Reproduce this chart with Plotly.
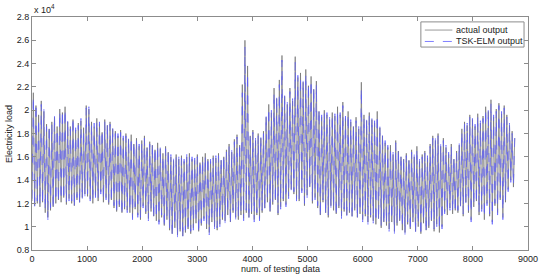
import plotly.graph_objects as go

# load values in units of 100 (x 10^4 axis), one peak and one trough per 48 samples
peaks = [215, 204, 196, 208, 199, 188, 184, 190, 194, 186, 201, 198, 203,
         190, 186, 192, 183, 189, 191, 185, 204, 201,
         190, 186, 193, 188, 181, 192, 187, 190, 184,
         182, 178, 183, 176, 180, 175,
         179, 171, 176, 169, 174, 178, 168, 173, 170, 166, 172,
         167, 163, 169, 164,
         160, 157, 162, 158, 161, 156, 160, 163, 158,
         157, 162, 155, 160, 163, 158, 156, 161, 159, 163, 157, 160,
         166, 171, 164, 175, 179, 170,
         222, 260, 238,
         178, 183, 174, 180, 176, 182,
         194, 205, 198, 219, 210,
         226, 247, 212, 205, 219, 208, 246, 228,
         232, 224, 235, 221, 229, 218, 225,
         199, 194, 200, 196, 192, 198, 195,
         203, 196, 207, 193, 199,
         190, 186, 194, 184, 224,
         196, 191, 198, 192, 189,
         199, 185, 178, 172, 168,
         170, 162, 174, 165, 160, 158,
         163, 157, 166, 160, 169, 156, 162, 165, 159,
         171, 178, 174, 180, 169, 176,
         168, 162, 171, 158, 165, 170,
         184, 190, 187, 196, 192, 186, 197, 189,
         195, 203, 199, 209, 194, 201, 206, 197, 204,
         196, 187, 182, 176]

troughs = [122, 118, 120, 117, 121, 112, 108, 114, 117, 120, 123, 121, 125,
           119, 124, 120, 118, 123, 121, 125, 128, 126,
           124, 120, 127, 122, 130, 121, 125, 119, 123,
           116, 113, 117, 112, 115, 114,
           112, 108, 115, 110, 106, 118, 111, 107, 113, 109, 105,
           104, 108, 101, 106,
           97, 94, 99, 93, 96, 92, 95, 98, 94,
           99, 103, 96, 101, 107, 98, 95, 104, 100, 97, 102, 106,
           105, 110, 104, 112, 108, 106,
           110, 107, 112,
           108, 111, 106, 110, 107, 112,
           116, 121, 113, 119, 123,
           110, 117, 122, 119, 126, 132, 128, 124,
           122, 131, 118, 127, 134, 120, 125,
           116, 110, 121, 112, 108, 118, 114,
           111, 116, 109, 113, 110,
           112, 109, 114, 108, 111,
           106, 109, 104, 108, 105,
           102, 107, 99, 104, 101,
           98, 104, 96, 101, 105, 97,
           95, 102, 98, 104, 96, 100, 94, 103, 97,
           99, 105, 96, 102, 95, 100,
           113, 110, 116, 111, 114, 112,
           118, 109, 121, 112, 106, 117, 122, 110,
           115, 106, 120, 109, 104, 118, 112, 123, 108,
           121, 132, 140, 134]

pred_peaks = [212, 206, 193, 205, 201, 186, 187, 188, 196, 184, 199, 200, 201,
              192, 184, 194, 185, 187, 193, 183, 202, 203,
              188, 189, 191, 190, 183, 190, 189, 188, 186,
              180, 180, 181, 178, 178, 177,
              177, 173, 174, 171, 172, 176, 170, 171, 172, 168, 170,
              169, 161, 167, 166,
              162, 159, 160, 160, 159, 158, 162, 161, 160,
              159, 160, 157, 158, 161, 160, 158, 159, 161, 161, 159, 162,
              164, 169, 166, 173, 177, 172,
              215, 254, 232,
              180, 181, 176, 178, 178, 180,
              196, 202, 200, 215, 212,
              222, 243, 214, 207, 216, 210, 241, 230,
              229, 226, 231, 223, 226, 220, 222,
              201, 196, 198, 198, 194, 196, 197,
              200, 198, 204, 195, 197,
              192, 188, 191, 186, 219,
              194, 193, 196, 194, 191,
              196, 187, 180, 174, 170,
              168, 164, 172, 167, 162, 160,
              161, 159, 164, 162, 167, 158, 160, 163, 161,
              169, 176, 176, 178, 171, 174,
              170, 164, 169, 160, 163, 172,
              182, 188, 189, 194, 193, 188, 195, 191,
              193, 201, 201, 206, 196, 199, 204, 199, 202,
              194, 189, 180, 178]

pred_troughs = [124, 116, 122, 119, 119, 114, 106, 116, 115, 122, 121, 123, 123,
                121, 122, 122, 116, 125, 119, 123, 126, 128,
                122, 122, 125, 124, 128, 123, 123, 121, 121,
                118, 111, 119, 110, 117, 112,
                114, 106, 117, 108, 108, 116, 113, 105, 115, 107, 107,
                102, 110, 99, 108,
                99, 92, 101, 91, 98, 90, 97, 96, 96,
                97, 105, 94, 103, 105, 100, 93, 106, 98, 99, 100, 108,
                103, 112, 102, 114, 106, 108,
                112, 105, 114,
                106, 113, 104, 112, 105, 114,
                114, 123, 111, 121, 121,
                112, 115, 124, 117, 124, 130, 130, 122,
                124, 129, 120, 125, 132, 122, 123,
                118, 108, 123, 110, 110, 116, 116,
                109, 118, 107, 115, 108,
                114, 107, 116, 106, 113,
                104, 111, 102, 110, 103,
                104, 105, 101, 102, 103,
                96, 106, 94, 103, 103, 99,
                93, 104, 96, 106, 94, 102, 92, 105, 95,
                101, 103, 98, 100, 97, 98,
                111, 112, 114, 113, 112, 114,
                116, 111, 119, 114, 104, 119, 120, 112,
                113, 108, 118, 111, 102, 120, 110, 125, 106,
                123, 130, 138, 136]

names = ["actual output", "TSK-ELM output"]
y_ticks = [8000, 10000, 12000, 14000, 16000, 18000, 20000, 22000, 24000,
           26000, 28000]
y_ticktext = ["0.8", "1", "1.2", "1.4", "1.6", "1.8", "2", "2.2", "2.4",
              "2.6", "2.8"]

step = 48  # samples per peak/trough pair


def zigzag(lo, hi):
    xs, ys = [], []
    for i, (a, b) in enumerate(zip(lo, hi)):
        xs += [i * step, i * step + step // 2]
        ys += [a * 100, b * 100]
    return xs, ys


x_act, y_act = zigzag(troughs, peaks)
x_pred, y_pred = zigzag(pred_troughs, pred_peaks)

GRAY = "#6e6e6e"
BLUE = "#5a5aff"

fig = go.Figure()
fig.add_trace(go.Scatter(x=x_act, y=y_act, mode="lines", name=names[0],
                         line=dict(color=GRAY, width=0.7)))
fig.add_trace(go.Scatter(x=x_pred, y=y_pred, mode="lines", name=names[1],
                         line=dict(color=BLUE, width=0.7, dash="dash")))

axis = dict(showline=True, linecolor="#8c8c8c", linewidth=1, mirror="ticks",
            ticks="inside", ticklen=4, tickcolor="#8c8c8c", showgrid=False,
            zeroline=False, tickfont=dict(size=9, color="#222"))

# hand-built legend box (matlab style, compact rows)
shapes = [
    dict(type="rect", xref="paper", yref="paper", x0=0.784, x1=0.992,
         y0=0.871, y1=0.979, line=dict(color="#8c8c8c", width=1),
         fillcolor="white", layer="above"),
    dict(type="line", xref="paper", yref="paper", x0=0.792, x1=0.8475,
         y0=0.944, y1=0.944, line=dict(color="#999999", width=1),
         layer="above"),
    dict(type="line", xref="paper", yref="paper", x0=0.792, x1=0.8475,
         y0=0.895, y1=0.895, line=dict(color="#7f7fff", width=1, dash="dash"),
         layer="above"),
]

fig.update_layout(
    width=550, height=276,
    margin=dict(l=32, r=13, t=17, b=26),
    plot_bgcolor="white", paper_bgcolor="white",
    font=dict(family="Liberation Sans, Arial", size=9, color="#222"),
    xaxis=dict(axis, range=[0, 9000], tickvals=list(range(0, 9001, 1000))),
    yaxis=dict(axis, range=[8000, 28000], tickvals=y_ticks,
               ticktext=y_ticktext),
    showlegend=False,
    shapes=shapes,
    annotations=[
        dict(text=names[0], x=0.8515, y=0.944, xref="paper", yref="paper",
             xanchor="left", yanchor="middle", showarrow=False,
             font=dict(size=9)),
        dict(text=names[1], x=0.8515, y=0.895, xref="paper", yref="paper",
             xanchor="left", yanchor="middle", showarrow=False,
             font=dict(size=9)),
        dict(text="x 10<sup>4</sup>", x=0, y=1, xref="paper", yref="paper",
             xanchor="left", yanchor="bottom", showarrow=False,
             font=dict(size=9)),
        dict(text="num. of testing data", x=0.5, y=-0.081, xref="paper",
             yref="paper", xanchor="center", yanchor="middle", showarrow=False,
             font=dict(size=9)),
        dict(text="Electricity load", x=-0.0475, y=0.5, xref="paper",
             yref="paper", xanchor="center", yanchor="middle", textangle=-90,
             showarrow=False, font=dict(size=9)),
    ],
)

# the page body has a default 8px margin, drop it so the figure sits at 0,0
fig.write_html("out.html", config={"displayModeBar": False},
               post_script="document.body.style.margin='0';"
                           "document.body.style.overflow='hidden';")
